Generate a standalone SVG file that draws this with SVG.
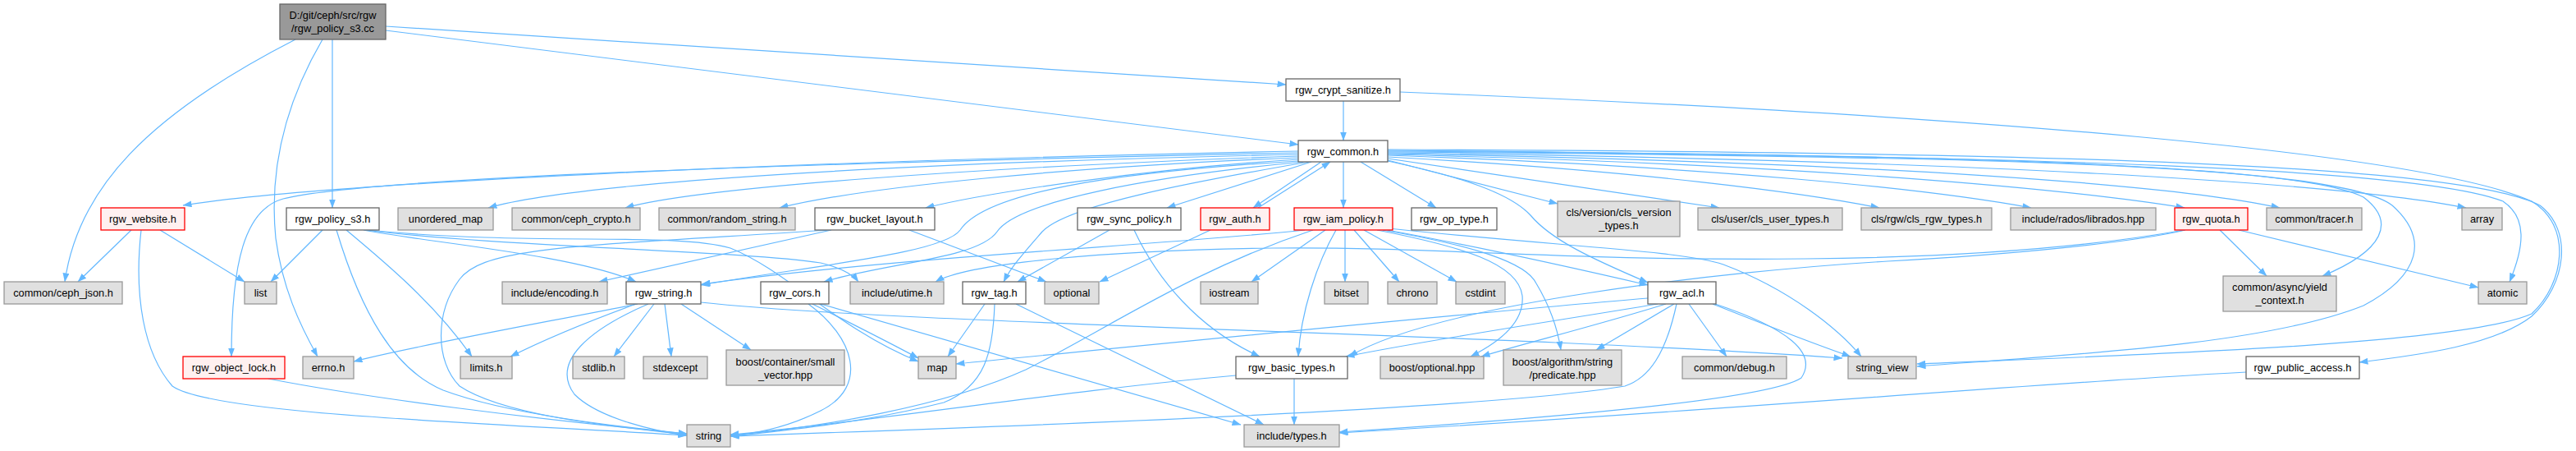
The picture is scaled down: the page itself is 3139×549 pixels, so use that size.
<svg xmlns="http://www.w3.org/2000/svg" width="3139" height="549" viewBox="0 0 3139 549">
<defs>
<marker id="arr" markerWidth="11" markerHeight="8" refX="10.5" refY="4" orient="auto" markerUnits="userSpaceOnUse"><path d="M0,0 L11,4 L0,8 z" fill="#63B8FF"/></marker>
</defs>
<style>
.e path{fill:none;stroke:#63B8FF;stroke-width:1.2;marker-end:url(#arr)}
.w rect{fill:#FFFFFF;stroke:#666666;stroke-width:1.3}
.g rect{fill:#E0E0E0;stroke:#999999;stroke-width:1.3}
.r rect{fill:#FFF0F0;stroke:#FF0000;stroke-width:1.3}
.root rect{fill:#999999;stroke:#666666;stroke-width:1.3}
text{font-family:"Liberation Sans",Arial,sans-serif;font-size:12.8px;fill:#000000;text-anchor:middle}
</style>
<rect width="3139" height="549" fill="#FFFFFF"/>
<g id="edges" class="e">
<path d="M360,48 C180,140 95,230 79,343"/>
<path d="M393,48 C345,130 328,210 336,290 C344,350 365,395 387,434"/>
<path d="M405,48 L405,253"/>
<path d="M470,32 L1567,103"/>
<path d="M470,37 L1582,176"/>
<path d="M1637,123 L1637,171"/>
<path d="M1706,112 C2400,140 2950,185 3085,245 C3135,275 3125,345 3085,382 C3000,420 2600,432 2336,443"/>
<path d="M1582,184 C1000,195 400,222 223,250"/>
<path d="M1582,186 C1000,198 450,215 345,242 C298,255 282,320 282,434"/>
<path d="M1582,188 C1100,198 700,222 595,253"/>
<path d="M1582,190 C1200,203 850,228 762,253"/>
<path d="M1582,192 C1300,203 1050,228 950,253"/>
<path d="M1582,194 C1400,205 1200,235 1128,253"/>
<path d="M1582,196 C1350,210 1200,235 1170,280 C1150,308 1000,322 854,347"/>
<path d="M1588,197 C1400,215 1240,245 1215,282 C1192,315 1080,320 1004,343"/>
<path d="M1595,197 C1450,222 1300,250 1270,282 C1250,305 1232,325 1223,343"/>
<path d="M1598,197 L1422,253"/>
<path d="M1610,197 L1527,253"/>
<path d="M1533,253 L1621,197"/>
<path d="M1637,197 L1637,253"/>
<path d="M1658,197 L1750,253"/>
<path d="M1691,195 L1898,248"/>
<path d="M1691,196 C1780,215 1840,235 1865,262 C1890,292 1940,315 2008,344"/>
<path d="M1691,193 L2095,253"/>
<path d="M1691,191 C2000,208 2200,235 2290,253"/>
<path d="M1691,189 C2100,204 2350,230 2475,253"/>
<path d="M1691,188 C2200,200 2520,230 2662,253"/>
<path d="M1691,187 C2300,198 2650,225 2778,253"/>
<path d="M1691,186 C2400,195 2850,222 3005,253"/>
<path d="M1691,185 C2400,190 2800,200 2880,240 C2920,270 2905,305 2830,336"/>
<path d="M1691,184 C2400,188 2850,200 2915,250 C2960,290 2950,335 2880,372 C2760,420 2520,432 2336,446"/>
<path d="M1691,183 C2500,190 2950,205 3050,245 C3080,265 3076,300 3058,343"/>
<path d="M1691,182 C2500,185 3000,200 3095,250 C3135,280 3128,345 3085,385 C3040,420 2950,432 2875,441"/>
<path d="M393,280 L330,343"/>
<path d="M410,280 C440,380 480,450 540,475 C620,505 760,520 837,528"/>
<path d="M422,280 C470,320 530,370 575,434"/>
<path d="M443,280 C520,295 700,310 775,343"/>
<path d="M446,280 C600,300 900,305 1000,320 C1025,326 1040,335 1046,343"/>
<path d="M447,280 C650,300 820,282 890,302 C960,330 1020,400 1119,440"/>
<path d="M160,280 L95,343"/>
<path d="M195,280 L298,343"/>
<path d="M172,280 C163,360 175,430 210,470 C260,505 600,515 837,530"/>
<path d="M327,461 C450,485 650,510 837,528"/>
<path d="M1013,280 L730,343"/>
<path d="M1010,280 C700,300 590,300 560,340 C530,380 530,440 560,470 C620,510 780,522 837,529"/>
<path d="M1108,280 L1275,343"/>
<path d="M777,370 C650,395 500,422 431,440"/>
<path d="M775,370 C720,390 670,410 622,434"/>
<path d="M790,370 C720,400 670,440 700,480 C730,510 800,525 837,530"/>
<path d="M797,370 L748,434"/>
<path d="M810,370 L818,434"/>
<path d="M830,370 L915,426"/>
<path d="M854,368 C1100,395 1800,405 2245,436"/>
<path d="M990,370 C1040,395 1080,415 1119,436"/>
<path d="M985,370 C1040,410 1060,470 1000,500 C960,520 920,528 890,530"/>
<path d="M1000,370 L1512,517"/>
<path d="M1200,370 L1155,434"/>
<path d="M1212,370 C1210,430 1200,470 1150,490 C1050,515 950,525 890,531"/>
<path d="M1238,370 L1540,517"/>
<path d="M1352,280 L1240,343"/>
<path d="M1382,280 C1410,340 1460,400 1535,434"/>
<path d="M1475,280 L1340,343"/>
<path d="M1615,280 L1525,343"/>
<path d="M1639,280 L1639,343"/>
<path d="M1650,280 L1705,343"/>
<path d="M1662,280 L1775,343"/>
<path d="M1628,280 C1605,320 1585,380 1582,434"/>
<path d="M1600,280 C1450,330 1350,400 1250,450 C1150,495 1000,520 890,530"/>
<path d="M1590,280 C1400,300 1100,312 855,346"/>
<path d="M1678,280 C1780,300 1850,320 1855,360 C1858,395 1820,420 1792,434"/>
<path d="M1685,280 C1800,300 1860,320 1872,345 C1890,375 1898,400 1902,426"/>
<path d="M1690,280 C1800,300 1900,322 2008,347"/>
<path d="M1692,278 C1900,300 2050,305 2100,322 C2180,352 2240,400 2268,434"/>
<path d="M2008,363 C1800,380 1400,420 1165,443"/>
<path d="M2020,370 C1900,390 1750,412 1640,434"/>
<path d="M2030,370 C1950,395 1850,420 1805,434"/>
<path d="M2040,370 L1945,426"/>
<path d="M2058,370 L2104,434"/>
<path d="M2087,370 C2150,395 2200,415 2255,434"/>
<path d="M2043,370 C2030,430 2010,460 1980,470 C1800,500 1200,520 890,531"/>
<path d="M2090,370 C2180,400 2215,430 2195,460 C2150,490 1800,515 1632,526"/>
<path d="M1577,461 L1577,517"/>
<path d="M1506,457 C1300,475 1050,515 890,529"/>
<path d="M2705,280 L2762,336"/>
<path d="M2728,280 L3020,350"/>
<path d="M2663,280 C2600,295 2450,310 2300,318 C2100,330 1750,370 1644,434"/>
<path d="M2662,280 C2550,300 2400,313 2200,315 C1900,318 1750,300 1550,302 C1350,305 1180,320 1140,343"/>
<path d="M2737,453 C2500,465 2100,500 1632,527"/>
</g>
<g id="root" class="root"><rect x="341" y="5" width="129" height="43"/><text x="405.5" y="22.5">D:/git/ceph/src/rgw</text><text x="405.5" y="38.5">/rgw_policy_s3.cc</text></g>
<g id="n_crypt_sanitize" class="w"><rect x="1567" y="96" width="139" height="27"/><text x="1636.5" y="114">rgw_crypt_sanitize.h</text></g>
<g id="n_common" class="w"><rect x="1582" y="171" width="109" height="26"/><text x="1636.5" y="188.5">rgw_common.h</text></g>
<g id="n_website" class="r"><rect x="123" y="253" width="102" height="27"/><text x="174" y="271">rgw_website.h</text></g>
<g id="n_policy_s3_h" class="w"><rect x="349" y="253" width="113" height="27"/><text x="405.5" y="271">rgw_policy_s3.h</text></g>
<g id="n_unordered_map" class="g"><rect x="485" y="253" width="116" height="27"/><text x="543" y="271">unordered_map</text></g>
<g id="n_ceph_crypto" class="g"><rect x="624" y="253" width="156" height="27"/><text x="702" y="271">common/ceph_crypto.h</text></g>
<g id="n_random_string" class="g"><rect x="803" y="253" width="166" height="27"/><text x="886" y="271">common/random_string.h</text></g>
<g id="n_bucket_layout" class="w"><rect x="993" y="253" width="146" height="27"/><text x="1066" y="271">rgw_bucket_layout.h</text></g>
<g id="n_sync_policy" class="w"><rect x="1313" y="253" width="126" height="27"/><text x="1376" y="271">rgw_sync_policy.h</text></g>
<g id="n_auth" class="r"><rect x="1463" y="253" width="84" height="27"/><text x="1505" y="271">rgw_auth.h</text></g>
<g id="n_iam_policy" class="r"><rect x="1577" y="253" width="120" height="27"/><text x="1637" y="271">rgw_iam_policy.h</text></g>
<g id="n_op_type" class="w"><rect x="1720" y="253" width="104" height="27"/><text x="1772" y="271">rgw_op_type.h</text></g>
<g id="n_cls_version" class="g"><rect x="1898" y="245" width="149" height="43"/><text x="1972.5" y="263">cls/version/cls_version</text><text x="1972.5" y="279">_types.h</text></g>
<g id="n_cls_user" class="g"><rect x="2069" y="253" width="176" height="27"/><text x="2157" y="271">cls/user/cls_user_types.h</text></g>
<g id="n_cls_rgw" class="g"><rect x="2268" y="253" width="159" height="27"/><text x="2347.5" y="271">cls/rgw/cls_rgw_types.h</text></g>
<g id="n_librados" class="g"><rect x="2450" y="253" width="177" height="27"/><text x="2538.5" y="271">include/rados/librados.hpp</text></g>
<g id="n_quota" class="r"><rect x="2650" y="253" width="89" height="27"/><text x="2694.5" y="271">rgw_quota.h</text></g>
<g id="n_tracer" class="g"><rect x="2762" y="253" width="116" height="27"/><text x="2820" y="271">common/tracer.h</text></g>
<g id="n_array" class="g"><rect x="3000" y="253" width="49" height="27"/><text x="3024.5" y="271">array</text></g>
<g id="n_ceph_json" class="g"><rect x="5" y="343" width="144" height="27"/><text x="77" y="361">common/ceph_json.h</text></g>
<g id="n_list" class="g"><rect x="298" y="343" width="39" height="27"/><text x="317.5" y="361">list</text></g>
<g id="n_encoding" class="g"><rect x="612" y="343" width="128" height="27"/><text x="676" y="361">include/encoding.h</text></g>
<g id="n_rgw_string" class="w"><rect x="763" y="343" width="91" height="27"/><text x="808.5" y="361">rgw_string.h</text></g>
<g id="n_cors" class="w"><rect x="927" y="343" width="83" height="27"/><text x="968.5" y="361">rgw_cors.h</text></g>
<g id="n_utime" class="g"><rect x="1036" y="343" width="114" height="27"/><text x="1093" y="361">include/utime.h</text></g>
<g id="n_tag" class="w"><rect x="1173" y="343" width="77" height="27"/><text x="1211.5" y="361">rgw_tag.h</text></g>
<g id="n_optional" class="g"><rect x="1273" y="343" width="66" height="27"/><text x="1306" y="361">optional</text></g>
<g id="n_iostream" class="g"><rect x="1463" y="343" width="70" height="27"/><text x="1498" y="361">iostream</text></g>
<g id="n_bitset" class="g"><rect x="1614" y="343" width="53" height="27"/><text x="1640.5" y="361">bitset</text></g>
<g id="n_chrono" class="g"><rect x="1691" y="343" width="60" height="27"/><text x="1721" y="361">chrono</text></g>
<g id="n_cstdint" class="g"><rect x="1774" y="343" width="60" height="27"/><text x="1804" y="361">cstdint</text></g>
<g id="n_acl" class="w"><rect x="2008" y="343" width="83" height="27"/><text x="2049.5" y="361">rgw_acl.h</text></g>
<g id="n_yield_context" class="g"><rect x="2709" y="336" width="138" height="43"/><text x="2778" y="353.5">common/async/yield</text><text x="2778" y="370">_context.h</text></g>
<g id="n_atomic" class="g"><rect x="3020" y="343" width="59" height="27"/><text x="3049.5" y="361">atomic</text></g>
<g id="n_object_lock" class="r"><rect x="223" y="434" width="124" height="27"/><text x="285" y="452">rgw_object_lock.h</text></g>
<g id="n_errno" class="g"><rect x="369" y="434" width="62" height="27"/><text x="400" y="452">errno.h</text></g>
<g id="n_limits" class="g"><rect x="561" y="434" width="63" height="27"/><text x="592.5" y="452">limits.h</text></g>
<g id="n_stdlib" class="g"><rect x="698" y="434" width="63" height="27"/><text x="729.5" y="452">stdlib.h</text></g>
<g id="n_stdexcept" class="g"><rect x="784" y="434" width="78" height="27"/><text x="823" y="452">stdexcept</text></g>
<g id="n_small_vector" class="g"><rect x="885" y="426" width="144" height="43"/><text x="957" y="445">boost/container/small</text><text x="957" y="461">_vector.hpp</text></g>
<g id="n_map" class="g"><rect x="1119" y="434" width="46" height="27"/><text x="1142" y="452">map</text></g>
<g id="n_basic_types" class="w"><rect x="1506" y="434" width="136" height="27"/><text x="1574" y="452">rgw_basic_types.h</text></g>
<g id="n_boost_optional" class="g"><rect x="1682" y="434" width="126" height="27"/><text x="1745" y="452">boost/optional.hpp</text></g>
<g id="n_predicate" class="g"><rect x="1832" y="426" width="144" height="43"/><text x="1904" y="445">boost/algorithm/string</text><text x="1904" y="461">/predicate.hpp</text></g>
<g id="n_debug" class="g"><rect x="2050" y="434" width="127" height="27"/><text x="2113.5" y="452">common/debug.h</text></g>
<g id="n_string_view" class="g"><rect x="2252" y="434" width="83" height="27"/><text x="2293.5" y="452">string_view</text></g>
<g id="n_public_access" class="w"><rect x="2737" y="434" width="138" height="27"/><text x="2806" y="452">rgw_public_access.h</text></g>
<g id="n_string" class="g"><rect x="837" y="517" width="53" height="27"/><text x="863.5" y="535">string</text></g>
<g id="n_types" class="g"><rect x="1516" y="517" width="116" height="27"/><text x="1574" y="535">include/types.h</text></g>
</svg>
